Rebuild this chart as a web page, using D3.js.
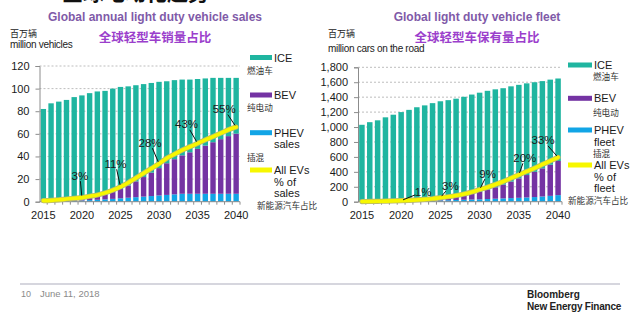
<!DOCTYPE html>
<html>
<head>
<meta charset="utf-8">
<script src="https://cdn.jsdelivr.net/npm/d3@7"></script>
<style>
  body { margin: 0; background: #fff; }
  svg { display: block; font-family: "Liberation Sans", Arial, sans-serif; }
  .cjk { font-family: "Noto Sans CJK SC", sans-serif; }
</style>
</head>
<body>
<svg id="chart_svg" width="640" height="327"></svg>
<script>
// ---- data ----
var years = [2015, 2016, 2017, 2018, 2019, 2020, 2021, 2022, 2023, 2024, 2025, 2026, 2027,
             2028, 2029, 2030, 2031, 2032, 2033, 2034, 2035, 2036, 2037, 2038, 2039, 2040];
var tickYears = [2015, 2020, 2025, 2030, 2035, 2040];

// annual sales, million vehicles
var salesICE  = [81.3, 86.1, 87.3, 88.2, 90.2, 91.2, 92.2, 92.6, 91.6, 91.5, 90.3, 87.7, 85,
                 82.2, 79.3, 76.3, 72.5, 69.9, 67, 64.3, 61.8, 59.4, 56.9, 54.2, 51.5, 49.3];
var salesBEV  = [0.4, 0.5, 0.7, 1.1, 1.4, 1.7, 2.4, 3.2, 4.3, 6.0, 8.2, 10.8, 14,
                 17.3, 20.7, 24.2, 28, 31.1, 34, 36.7, 39.7, 42.6, 45.6, 48.3, 51, 53.2];
var salesPHEV = [0.3, 0.4, 0.5, 0.7, 0.9, 1.1, 1.4, 1.7, 2.1, 2.5, 3, 3.5, 4,
                 4.5, 5, 5.5, 6, 6.5, 7, 7, 7, 7, 7, 7, 7, 7];
var salesEVShare = [0.8, 1, 1.4, 2, 2.5, 3, 4, 5, 6.5, 8.5, 11, 14, 17.5,
                    21, 24.5, 28, 32, 35, 38, 40.5, 43, 45.5, 48, 50.5, 53, 55];
var salesLabelYears = [2020, 2025, 2030, 2035, 2040];
var salesLabels = ["3%", "11%", "28%", "43%", "55%"];

// fleet, million cars on the road
var fleetICE  = [1028, 1062, 1086, 1125, 1158, 1190, 1218, 1249, 1268, 1291, 1305, 1310, 1317,
                 1325, 1332, 1329, 1325, 1312, 1292, 1275, 1252, 1228, 1200, 1168, 1140, 1105];
var fleetBEV  = [1, 1, 1, 1, 2, 3, 3, 5, 9, 14, 22, 30, 40,
                 54, 74, 99, 124, 153, 184, 222, 261, 300, 338, 377, 417, 457];
var fleetPHEV = [1, 2, 3, 4, 5, 7, 9, 11, 13, 15, 18, 20, 23,
                 26, 29, 32, 36, 40, 44, 48, 52, 57, 62, 70, 78, 88];
var fleetEVShare = [0.1, 0.2, 0.3, 0.4, 0.6, 0.8, 1, 1.3, 1.7, 2.2, 3, 3.7, 4.6,
                    5.7, 7.2, 9, 10.8, 12.8, 15, 17.5, 20, 22.5, 25, 27.7, 30.3, 33];
var fleetLabelYears = [2020, 2025, 2030, 2035, 2040];
var fleetLabels = ["1%", "3%", "9%", "20%", "33%"];

// ---- layout ----
var colors = { ICE: "#1fb5a0", BEV: "#7433a3", PHEV: "#12a5e6", EV: "#f7f700" };

var panels = [
  {
    ice: salesICE, bev: salesBEV, phev: salesPHEV, share: salesEVShare,
    labelYears: salesLabelYears, labels: salesLabels,
    labelOffsets: [[-2, -22], [-5, -23], [-9, -21], [-11, -19], [-12, -18]],
    yMax: 120, yStep: 20, left: 39.5, right: 240, top: 66, bottom: 201.7,
    title: "Global annual light duty vehicle sales", titleCn: "全球轻型车销量占比", cx: 155,
    unitCn: "百万辆", unit: "million vehicles", unitX: 10, unitY: 48,
    legendX: 250, legendSw: 22, legendWord: "sales",
    // swatch y, first text baseline, chinese baseline, chinese x
    legendRows: [[57.5, 61.5, 74, 247], [95, 99, 111, 247], [132.7, 136.5, 161, 247], [170, 174, 209, 257]]
  },
  {
    ice: fleetICE, bev: fleetBEV, phev: fleetPHEV, share: fleetEVShare,
    labelYears: fleetLabelYears, labels: fleetLabels,
    labelOffsets: [[22, -9], [10, -12], [8, -16], [6, -17], [-15, -17]],
    yMax: 1800, yStep: 200, left: 358, right: 562, top: 67.3, bottom: 201.7,
    title: "Global light duty vehicle fleet", titleCn: "全球轻型车保有量占比", cx: 477,
    unitCn: "百万辆", unit: "million cars on the road", unitX: 328, unitY: 52,
    legendX: 568, legendSw: 24, legendWord: "fleet",
    legendRows: [[65, 69, 80, 593], [98.3, 102, 115.5, 593], [130, 134, 156.5, 593], [165, 169, 203.5, 568]]
  }
];

var base = d3.select("#chart_svg");
base.append("rect").attr("width", 640).attr("height", 327).attr("fill", "#fff");

// cut-off slide heading at the very top
base.append("text")
    .attr("class", "cjk")
    .attr("x", 62).attr("y", 0)
    .attr("font-size", "21px").attr("font-weight", "bold")
    .attr("fill", "#111")
    .text("全球电动化趋势");

panels.forEach(function(p) {
  var g = base.append("g");

  var x = d3.scaleBand().domain(years).range([p.left, p.right]).paddingInner(0.3).paddingOuter(0.15);
  var y = d3.scaleLinear().domain([0, p.yMax]).range([p.bottom, p.top]);
  var yPct = d3.scaleLinear().domain([0, 100]).range([p.bottom, p.top]);

  // titles
  g.append("text").attr("x", p.cx).attr("y", 21).attr("text-anchor", "middle")
      .attr("font-size", "12px").attr("font-weight", "bold").attr("fill", "#7f5aa8")
      .text(p.title);
  g.append("text").attr("class", "cjk").attr("x", p.cx).attr("y", 42).attr("text-anchor", "middle")
      .attr("font-size", "12.5px").attr("font-weight", "bold").attr("fill", "#9b3fcc")
      .text(p.titleCn);

  // unit labels
  g.append("text").attr("class", "cjk").attr("x", p.unitX).attr("y", 37)
      .attr("font-size", "9px").attr("fill", "#222").text(p.unitCn);
  g.append("text").attr("x", p.unitX).attr("y", p.unitY)
      .attr("font-size", "10px").attr("fill", "#222").attr("letter-spacing", "-0.3px").text(p.unit);

  // gridlines
  var ticks = d3.range(0, p.yMax + 1, p.yStep);
  g.append("g").selectAll("line").data(ticks.slice(1)).join("line")
      .attr("x1", p.left).attr("x2", p.right)
      .attr("y1", function(d) { return y(d); }).attr("y2", function(d) { return y(d); })
      .attr("stroke", "#bdbdbd").attr("stroke-dasharray", "2,2");

  // stacked bars
  var rows = years.map(function(yr, i) {
    return { year: yr, PHEV: p.phev[i], BEV: p.bev[i], ICE: p.ice[i] };
  });
  var series = d3.stack().keys(["PHEV", "BEV", "ICE"])(rows);
  g.append("g").selectAll("g").data(series).join("g")
      .attr("fill", function(s) { return colors[s.key]; })
    .selectAll("rect").data(function(s) { return s; }).join("rect")
      .attr("x", function(d) { return x(d.data.year); })
      .attr("width", x.bandwidth())
      .attr("y", function(d) { return y(d[1]); })
      .attr("height", function(d) { return Math.max(0, y(d[0]) - y(d[1])); });

  // y axis
  var yAxis = d3.axisLeft(y).tickValues(ticks).tickSize(4).tickPadding(6)
      .tickFormat(p.yMax > 1000 ? d3.format(",") : d3.format("d"));
  var ya = g.append("g").attr("transform", "translate(" + p.left + ",0)").call(yAxis);
  ya.select(".domain").attr("stroke", "#8c8c8c");
  ya.selectAll(".tick line").attr("stroke", "#8c8c8c");
  ya.selectAll("text").attr("font-size", "11px").attr("fill", "#1a1a1a")
      .attr("font-family", "'Liberation Sans', Arial, sans-serif");

  // x axis
  var xa = g.append("g").attr("transform", "translate(0," + p.bottom + ")");
  xa.append("line").attr("x1", p.left).attr("x2", p.right).attr("stroke", "#8c8c8c");
  xa.selectAll(".minor").data(years).join("line").attr("class", "minor")
      .attr("x1", function(d) { return x(d) + x.bandwidth() + x.step() * x.paddingInner() / 2; })
      .attr("x2", function(d) { return x(d) + x.bandwidth() + x.step() * x.paddingInner() / 2; })
      .attr("y1", 0).attr("y2", 3).attr("stroke", "#8c8c8c");
  xa.selectAll("text").data(tickYears).join("text")
      .attr("x", function(d) { return x(d) + x.bandwidth() / 2; })
      .attr("y", 17.5).attr("text-anchor", "middle")
      .attr("font-size", "11px").attr("fill", "#1a1a1a")
      .text(function(d) { return d; });

  // EV share line (secondary % scale)
  var line = d3.line()
      .x(function(d, i) { return x(years[i]) + x.bandwidth() / 2; })
      .y(function(d) { return yPct(d); })
      .curve(d3.curveMonotoneX);
  g.append("path").datum(p.share).attr("d", line).attr("fill", "none")
      .attr("stroke", "#b9b96a").attr("stroke-width", 5.2).attr("stroke-linecap", "round");
  g.append("path").datum(p.share).attr("d", line).attr("fill", "none")
      .attr("stroke", colors.EV).attr("stroke-width", 3.6).attr("stroke-linecap", "round");

  // % labels with leader lines
  p.labelYears.forEach(function(yr, k) {
    var i = years.indexOf(yr);
    var px = x(yr) + x.bandwidth() / 2, py = yPct(p.share[i]);
    var lx = px + p.labelOffsets[k][0], ly = py + p.labelOffsets[k][1];
    var dx = px - lx, dy = py - ly, len = Math.sqrt(dx * dx + dy * dy);
    var hw = p.labels[k].length * 3.4 + 1, hh = 5.5;
    var t = Math.min(Math.abs(dx) > 0.01 ? hw / Math.abs(dx) : 9, hh / Math.abs(dy));
    var sx = lx + dx * t, sy = ly + dy * t;
    var ex = px - dx / len * 2, ey = py - dy / len * 2;
    g.append("line").attr("x1", sx).attr("y1", sy).attr("x2", ex).attr("y2", ey)
        .attr("stroke", "#111").attr("stroke-width", 1);
    g.append("text").attr("x", lx).attr("y", ly + 4).attr("text-anchor", "middle")
        .attr("font-size", "11.5px").attr("fill", "#1a1a1a").text(p.labels[k]);
  });

  // legend
  var L = g.append("g");
  var tx = p.legendX + p.legendSw + 2;
  var items = [
    { key: "ICE", lines: ["ICE"], cn: "燃油车" },
    { key: "BEV", lines: ["BEV"], cn: "纯电动" },
    { key: "PHEV", lines: ["PHEV", p.legendWord], cn: "插混" },
    { key: "EV", lines: ["All EVs", "% of", p.legendWord], cn: "新能源汽车占比" }
  ];
  items.forEach(function(it, k) {
    var r = p.legendRows[k];
    L.append("rect").attr("x", p.legendX).attr("y", r[0] - 2.5).attr("width", p.legendSw).attr("height", 5)
        .attr("fill", colors[it.key]);
    it.lines.forEach(function(s, j) {
      L.append("text").attr("x", tx).attr("y", r[1] + j * 11.6)
          .attr("font-size", "11px").attr("fill", "#1a1a1a").text(s);
    });
    L.append("text").attr("class", "cjk").attr("x", r[3]).attr("y", r[2])
        .attr("font-size", "8.6px").attr("fill", "#333").text(it.cn);
  });
});

// footer
var foot = base.append("g");
foot.append("line").attr("x1", 20).attr("x2", 620).attr("y1", 284).attr("y2", 284)
    .attr("stroke", "#c9c9d3").attr("stroke-width", 1.5);
foot.append("text").attr("x", 21).attr("y", 297).attr("font-size", "9px").attr("fill", "#8a8a8a").text("10");
foot.append("text").attr("x", 40).attr("y", 297).attr("font-size", "9.5px").attr("fill", "#8a8a8a").text("June 11, 2018");
foot.append("text").attr("x", 527).attr("y", 298).attr("font-size", "10px").attr("font-weight", "bold")
    .attr("fill", "#222").text("Bloomberg");
foot.append("text").attr("x", 527).attr("y", 310).attr("font-size", "10px").attr("font-weight", "bold")
    .attr("fill", "#222").attr("letter-spacing", "-0.2px").text("New Energy Finance");
</script>
</body>
</html>
